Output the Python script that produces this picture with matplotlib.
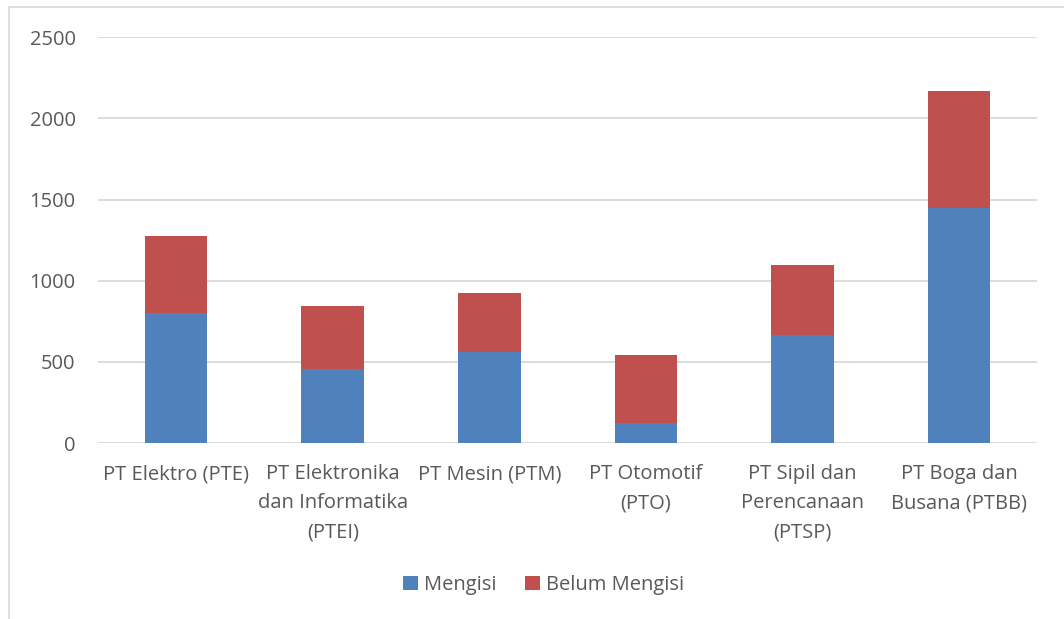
import matplotlib.pyplot as plt
import matplotlib.patches as mpatches
import numpy as np

# data
categories = ["PT Elektro (PTE)", "PT Elektronika\ndan Informatika\n(PTEI)", "PT Mesin (PTM)",
              "PT Otomotif\n(PTO)", "PT Sipil dan\nPerencanaan\n(PTSP)", "PT Boga dan\nBusana (PTBB)"]
mengisi = [800, 455, 560, 125, 665, 1445]
belum_mengisi = [473, 389, 364, 417, 431, 724]
yticks = [0, 500, 1000, 1500, 2000, 2500]

plt.rcParams['font.family'] = ['Open Sans', 'DejaVu Sans']
text_color = '#595959'
fs = 14.5

fig = plt.figure(figsize=(10.64, 6.19), dpi=100)
ax = fig.add_axes([0.092, 0.284, 0.883, 0.656])

x = np.arange(len(categories))
ax.bar(x, mengisi, width=0.4, color='#4f81bd', label='Mengisi', zorder=3)
ax.bar(x, belum_mengisi, width=0.4, bottom=mengisi, color='#c0504d', label='Belum Mengisi', zorder=3)

ax.set_xlim(-0.5, len(categories) - 0.5)
ax.set_ylim(0, 2500)
ax.set_yticks(yticks)
ax.set_xticks(x)
ax.set_xticklabels(categories, fontsize=fs, color=text_color, linespacing=1.6)
ax.tick_params(axis='y', labelsize=fs, labelcolor=text_color, length=0, pad=16)
ax.tick_params(axis='x', length=0, pad=15)
ax.grid(axis='y', color='#d9d9d9', linewidth=1.3, zorder=0)
for s in ax.spines.values():
    s.set_visible(False)

# outer chart border
fig.patches.append(mpatches.Rectangle((9 / 1064, -0.05), 1.1, 1 - 7 / 619 + 0.05,
                                      transform=fig.transFigure, fill=False,
                                      edgecolor='#d9d9d9', linewidth=1.2))

fig.legend(loc='center', bbox_to_anchor=(0.511, 0.055), ncol=2, frameon=False,
           fontsize=fs, labelcolor=text_color, handlelength=0.75, handleheight=0.75,
           handletextpad=0.3, columnspacing=1.4)

fig.savefig('out.png', dpi=100)
